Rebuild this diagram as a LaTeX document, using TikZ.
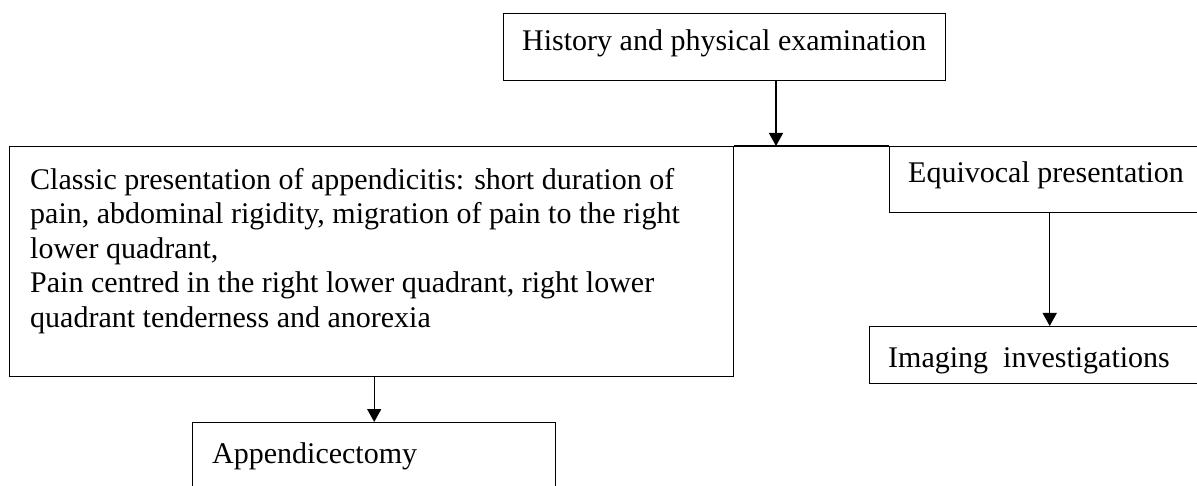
\documentclass[tikz,border=0pt]{standalone}
\usepackage{fontspec}
\setmainfont{Liberation Serif}
\usetikzlibrary{arrows.meta}
\begin{document}
\begin{tikzpicture}[x=1pt,y=-1pt,
  box/.style={draw, line width=1.4pt, inner sep=0pt, anchor=north west},
  txt/.style={inner sep=0pt, anchor=base west, font=\fontsize{30}{34.5}\selectfont},
  arr/.style={line width=1.4pt, -{Triangle[length=13pt,width=14pt]}}]
\useasboundingbox (0,0) rectangle (1197,486);
\clip (0,0) rectangle (1197,486);
\node[box, minimum width=442pt, minimum height=67pt] (hist) at (503,13) {};
\node[txt] (histT) at (522,51) {History and physical examination};
\node[box, minimum width=724pt, minimum height=230pt] (classic) at (9,146) {};
\node[txt, anchor=north west, align=left] (classicT) at (30,168) {Classic presentation of appendicitis: short duration of\\pain, abdominal rigidity, migration of pain to the right\\lower quadrant,\\Pain centred in the right lower quadrant, right lower\\quadrant tenderness and anorexia};
\node[box, minimum width=320pt, minimum height=66pt] (equiv) at (889,146) {};
\node[txt] (equivT) at (908,183) {Equivocal presentation};
\node[box, minimum width=360pt, minimum height=57pt] (img) at (869,326) {};
\node[txt] (imgT) at (888,367) {Imaging\ \ investigations};
\node[box, minimum width=363pt, minimum height=100pt] (app) at (192,422) {};
\node[txt] (appT) at (212,463) {Appendicectomy};
\coordinate (j) at (776,146);
\draw[line width=1.4pt] (classic.north east) -- (equiv.north west);
\draw[arr] (hist.south -| j) -- (j);
\draw[arr] (classic.south -| app.north) -- (app.north);
\draw[arr] (equiv.south) -- (img.north);
\end{tikzpicture}
\end{document}
